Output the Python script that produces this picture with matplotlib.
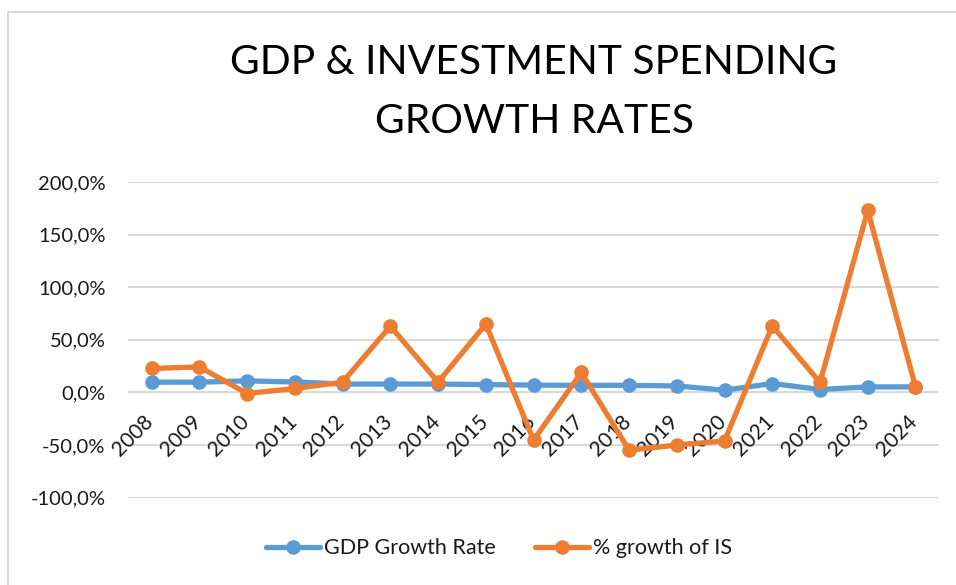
import matplotlib.pyplot as plt
import matplotlib.transforms as mtransforms
from matplotlib.patches import Rectangle
from matplotlib.ticker import FuncFormatter

plt.rcParams['font.family'] = ['Lato', 'DejaVu Sans']

years = ['2008', '2009', '2010', '2011', '2012', '2013', '2014', '2015', '2016',
         '2017', '2018', '2019', '2020', '2021', '2022', '2023', '2024']
gdp_growth = [9.8, 9.8, 11.0, 10.0, 8.0, 8.0, 8.0, 7.5, 7.0,
              6.8, 6.8, 6.2, 2.2, 8.5, 2.8, 5.3, 5.3]
is_growth = [22.8, 24.3, -1.0, 3.8, 9.8, 63.0, 9.8, 65.0, -45.3,
             19.0, -54.8, -50.0, -46.0, 63.3, 9.5, 173.0, 5.3]

blue = '#5B9BD5'
orange = '#ED7D31'
grid_grey = '#D9D9D9'
text_col = '#1a1a1a'

fig = plt.figure(figsize=(9.56, 5.85), dpi=100)
ax = fig.add_axes([0.1336, 0.1492, 0.849, 0.5397])

x = list(range(len(years)))
ax.plot(x, gdp_growth, color=blue, lw=3.8, marker='o', ms=9.5,
        solid_capstyle='round', label='GDP Growth Rate', zorder=3)
ax.plot(x, is_growth, color=orange, lw=3.8, marker='o', ms=9.5,
        solid_capstyle='round', label='% growth of IS', zorder=4)

ax.set_xlim(-0.5, len(years) - 0.5)
ax.set_ylim(-100, 200)
ax.set_yticks(range(-100, 201, 50))
ax.yaxis.set_major_formatter(FuncFormatter(lambda v, p: f'{v:.1f}%'.replace('.', ',')))
ax.tick_params(axis='y', length=0, pad=16, labelsize=14.5, labelcolor=text_col)
ax.set_xticks([])
ax.grid(axis='y', color=grid_grey, lw=1.5, zorder=0)
for s in ax.spines.values():
    s.set_visible(False)

# category labels hang from the zero line, rotated 45 degrees
offset = mtransforms.offset_copy(ax.transData, fig=fig, x=3, y=-30, units='dots')
for i, yr in enumerate(years):
    ax.text(i, 0, yr, transform=offset, rotation=45, rotation_mode='anchor',
            ha='right', va='baseline', fontsize=15, color=text_col, zorder=2)

fig.text(0.5586, 0.893, 'GDP & INVESTMENT SPENDING', ha='center', va='center',
         fontsize=29.3, color='black')
fig.text(0.5586, 0.793, 'GROWTH RATES', ha='center', va='center',
         fontsize=29.3, color='black')

fig.legend(loc='center', bbox_to_anchor=(0.522, 0.063), ncol=2, frameon=False,
           fontsize=15.5, handlelength=2.5, columnspacing=1.8, handletextpad=0.2,
           labelcolor=text_col)

fig.patches.append(Rectangle((8 / 956, -0.05), 1.0, 1 - 11.5 / 585 + 0.05,
                             transform=fig.transFigure, fill=False,
                             edgecolor=grid_grey, lw=1.5, zorder=0))

fig.savefig('out.png', dpi=100)
